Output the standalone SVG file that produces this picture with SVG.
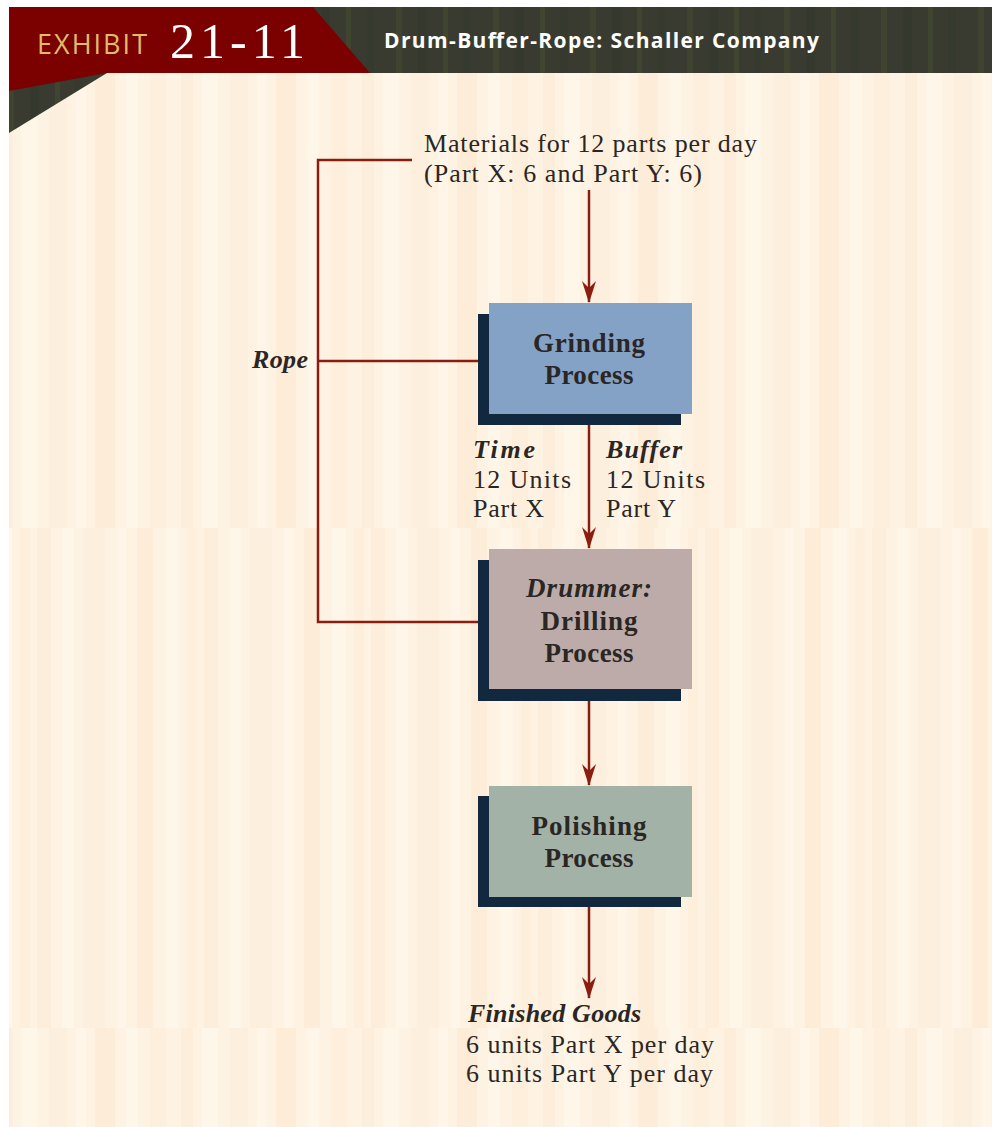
<svg xmlns="http://www.w3.org/2000/svg" width="992" height="1127" viewBox="0 0 992 1127">
<style>
.conn{stroke:#8b1c10;stroke-width:2.5;fill:none}
.lbl{font-family:"Liberation Serif",serif;font-size:26px;fill:#2a2624}
.bi{font-weight:bold;font-style:italic}
.box{font-family:"Liberation Serif",serif;font-size:27px;font-weight:bold;fill:#2a2624;text-anchor:middle}
.shadow{fill:#12283f}
</style>
<defs>
<marker id="ah" viewBox="0 0 22 14" refX="21" refY="7" markerWidth="22" markerHeight="14" markerUnits="userSpaceOnUse" orient="auto">
<path d="M0,0 L22,7 L0,14 L7,7 Z" fill="#8b1c10"/>
</marker>
<pattern id="s1" patternUnits="userSpaceOnUse" width="181" height="10">
<rect width="181" height="10" fill="#fef3e3"/>
<rect x="0" width="12" height="10" fill="#fdeedb"/>
<rect x="21" width="16" height="10" fill="#fff6ea"/>
<rect x="49" width="18" height="10" fill="#fdefdd"/>
<rect x="76" width="10" height="10" fill="#fff5e8"/>
<rect x="95" width="20" height="10" fill="#fdecd8"/>
<rect x="126" width="12" height="10" fill="#fff6ea"/>
<rect x="150" width="16" height="10" fill="#fdefdc"/>
</pattern>
<pattern id="s2" patternUnits="userSpaceOnUse" width="167" height="10" x="37">
<rect width="167" height="10" fill="#fef3e3"/>
<rect x="0" width="14" height="10" fill="#fdeedb"/>
<rect x="25" width="12" height="10" fill="#fff6ea"/>
<rect x="46" width="22" height="10" fill="#fdefdd"/>
<rect x="80" width="9" height="10" fill="#fff5e8"/>
<rect x="100" width="16" height="10" fill="#fdecd8"/>
<rect x="128" width="14" height="10" fill="#fff6ea"/>
<rect x="150" width="10" height="10" fill="#fdefdc"/>
</pattern>
<pattern id="hs" patternUnits="userSpaceOnUse" width="97" height="10">
<rect width="97" height="10" fill="#393b30"/>
<rect x="8" width="6" height="10" fill="#3f4330"/>
<rect x="30" width="9" height="10" fill="#35382d"/>
<rect x="55" width="5" height="10" fill="#404530"/>
<rect x="75" width="8" height="10" fill="#363a2e"/>
</pattern>
</defs>

<g id="background">
<rect x="0" y="0" width="992" height="1127" fill="#ffffff"/>
<rect x="9" y="73" width="983" height="455" fill="url(#s1)"/>
<rect x="9" y="528" width="983" height="500" fill="url(#s2)"/>
<rect x="9" y="1028" width="983" height="99" fill="url(#s1)"/>
</g>

<g id="header">
<rect x="9" y="7" width="983" height="66" fill="url(#hs)"/>
<polygon points="9,73 107,73 9,133" fill="url(#hs)"/>
<polygon points="9,7 313,7 370,73 107,73 9,91" fill="#7b0000"/>
<text x="37" y="54" font-family="'Open Sans','DejaVu Sans',sans-serif" font-size="27" fill="#e2bb69" textLength="110">EXHIBIT</text>
<text x="170" y="58" font-family="'Liberation Serif',serif" font-size="50" fill="#ffffff" textLength="135">21-11</text>
<text x="384" y="48" font-family="'Open Sans','DejaVu Sans',sans-serif" font-size="21" font-weight="bold" fill="#ffffff" textLength="435">Drum-Buffer-Rope: Schaller Company</text>
</g>

<g id="connectors">
<polyline class="conn" points="412,160 318,160 318,622 478,622"/>
<line class="conn" x1="318" y1="361" x2="478" y2="361"/>
<line class="conn" x1="589" y1="190" x2="589" y2="302" marker-end="url(#ah)"/>
<line class="conn" x1="589" y1="425" x2="589" y2="548" marker-end="url(#ah)"/>
<line class="conn" x1="589" y1="701" x2="589" y2="785" marker-end="url(#ah)"/>
<line class="conn" x1="589" y1="907" x2="589" y2="998" marker-end="url(#ah)"/>
</g>

<g id="materials">
<text class="lbl" x="424" y="152" textLength="333">Materials for 12 parts per day</text>
<text class="lbl" x="424" y="182" textLength="278">(Part X: 6 and Part Y: 6)</text>
</g>

<g id="rope">
<text class="lbl bi" x="252" y="368" textLength="56">Rope</text>
</g>

<g id="grinding">
<rect class="shadow" x="478" y="314" width="203" height="111"/>
<rect x="489" y="303" width="203" height="111" fill="#84a1c6"/>
<text class="box" x="589" y="352" textLength="112">Grinding</text>
<text class="box" x="589" y="384" textLength="89">Process</text>
</g>

<g id="time-buffer">
<text class="lbl bi" x="473" y="458" textLength="62">Time</text>
<text class="lbl" x="473" y="488" textLength="98">12 Units</text>
<text class="lbl" x="473" y="517" textLength="71">Part X</text>
<text class="lbl bi" x="606" y="458" textLength="76">Buffer</text>
<text class="lbl" x="606" y="488" textLength="99">12 Units</text>
<text class="lbl" x="606" y="517" textLength="70">Part Y</text>
</g>

<g id="drilling">
<rect class="shadow" x="478" y="560" width="203" height="141"/>
<rect x="489" y="549" width="203" height="140" fill="#bcaba8"/>
<text class="box" x="589" y="597" font-style="italic" textLength="126">Drummer:</text>
<text class="box" x="589" y="630" textLength="97">Drilling</text>
<text class="box" x="589" y="662" textLength="89">Process</text>
</g>

<g id="polishing">
<rect class="shadow" x="478" y="796" width="203" height="111"/>
<rect x="489" y="786" width="203" height="111" fill="#a2b2a6"/>
<text class="box" x="589" y="835" textLength="115">Polishing</text>
<text class="box" x="589" y="867" textLength="89">Process</text>
</g>

<g id="finished">
<text class="lbl bi" x="468" y="1022" textLength="173">Finished Goods</text>
<text class="lbl" x="466" y="1053" textLength="248">6 units Part X per day</text>
<text class="lbl" x="466" y="1082" textLength="247">6 units Part Y per day</text>
</g>
</svg>
